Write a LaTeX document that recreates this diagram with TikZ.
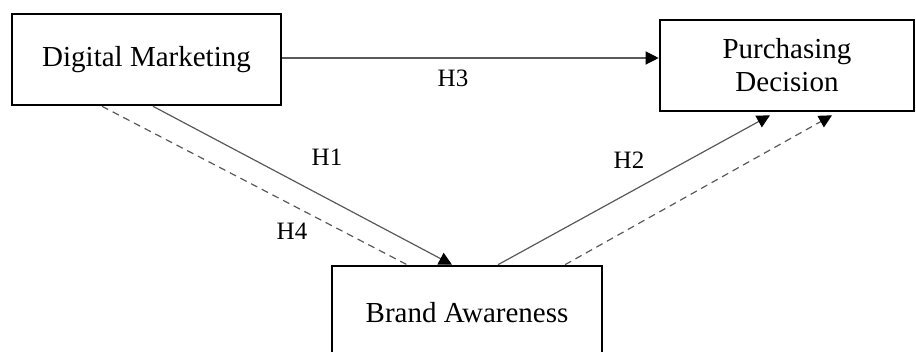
\documentclass[tikz,border=0pt]{standalone}
\usepackage{fontspec}
\setmainfont{Liberation Serif}
\usetikzlibrary{arrows.meta}

\begin{document}
\begin{tikzpicture}[
    x=1pt, y=-1pt,
    >={Triangle[width=13pt,length=13pt,color=black,fill=black]},
    var/.style={rectangle, draw, line width=2.6pt, align=center, font=\fontsize{29}{33}\selectfont},
    hyp/.style={font=\fontsize{25}{28}\selectfont},
    link/.style={->, line width=1.2pt, draw=black!65},
    indirect/.style={link, dash pattern=on 7pt off 5pt}
]
\clip (0,0) rectangle (916,351);
\node[var, minimum width=269pt, minimum height=91pt] (dm) at (146.5,59.5) {Digital Marketing};
\node[var, minimum width=254pt, minimum height=91pt] (pd) at (787,65.5) {Purchasing\\Decision};
\node[var, minimum width=270pt, minimum height=94pt] (ba) at (467,313) {Brand Awareness};
\node[hyp] (h3) at (453,78) {H3};
\node[hyp] (h1) at (327,157) {H1};
\node[hyp] (h2) at (629,160) {H2};
\node[hyp] (h4) at (292,231) {H4};
\draw[link] (dm.east |- 0,58) -- (pd.west |- 0,58);
\draw[link] ([xshift=6.5pt]dm.south) -- ([xshift=-15pt]ba.north);
\draw[indirect, -] ([xshift=-44.5pt]dm.south) -- ([xshift=-60pt]ba.north);
\draw[link] ([xshift=31pt]ba.north) -- ([xshift=-17pt,yshift=-3pt]pd.south);
\draw[indirect] ([xshift=98pt]ba.north) -- ([xshift=45pt,yshift=-3pt]pd.south);
\end{tikzpicture}
\end{document}
